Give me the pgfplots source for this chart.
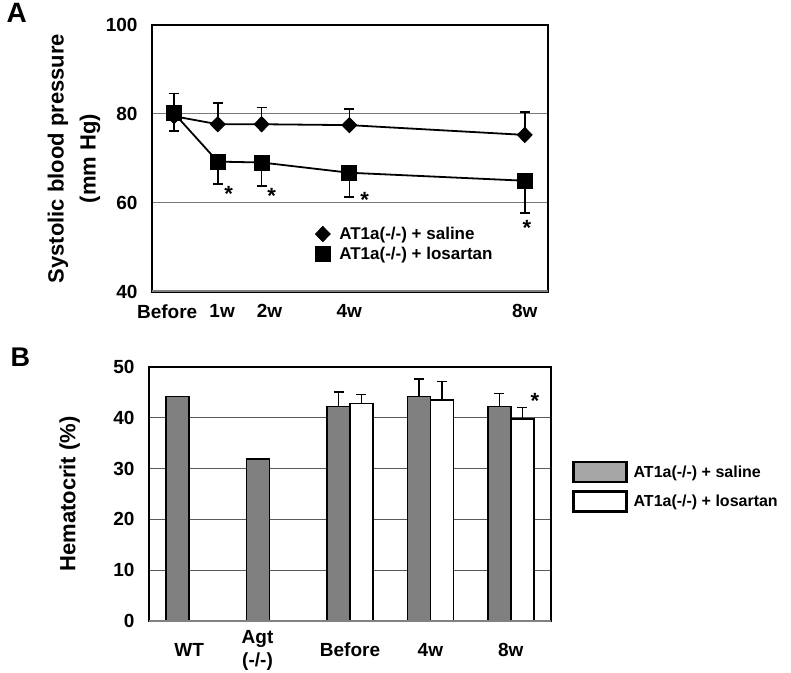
\documentclass[border=0pt]{standalone}
\usepackage{pgfplots}
\pgfplotsset{compat=1.18}
\usepackage{fontspec}
\setmainfont{Liberation Sans}
\definecolor{bargray}{RGB}{128,128,128}
\definecolor{leggray}{RGB}{166,166,166}
\definecolor{gridA}{RGB}{120,120,120}
\definecolor{gridB}{RGB}{90,90,90}
\begin{document}
\begin{tikzpicture}[x=1pt,y=1pt]
\path[use as bounding box] (0,0) rectangle (791,672);

% ---------------- Panel A ----------------
\begin{axis}[
  at={(152pt,380pt)}, anchor=south west,
  width=396pt, height=267pt, scale only axis,
  xmin=-0.5, xmax=8.53, ymin=40, ymax=100,
  xtick={-0.155,1.10,2.18,4,8}, xticklabels={Before,1w,2w,4w,8w},
  ytick={40,60,80,100},
  major tick length=0pt,
  ymajorgrids, grid style={color=gridA, line width=1pt},
  axis line style={line width=2.5pt, black},
  tick label style={font=\fontsize{19}{22}\selectfont\bfseries},
  /pgf/number format/assume math mode=true,
  yticklabel style={xshift=-11pt},
  xticklabel style={yshift=-9pt},
  ylabel={Systolic blood pressure\\(mm Hg)},
  ylabel style={align=center, font=\fontsize{22}{32}\selectfont\bfseries,
    at={(axis description cs:-0.197,0.5)}, anchor=center},
  legend style={at={(axis cs:3.22,50.8)}, anchor=west, draw=none, fill=none,
    font=\fontsize{17}{20}\selectfont\bfseries, inner sep=0pt,
    nodes={inner sep=1pt}, row sep=4pt, column sep=8pt},
  legend cell align=left,
  legend image code/.code={\draw[#1, only marks] plot coordinates {(0pt,0pt)};},
]
\draw[color=gray, line width=3pt] (rel axis cs:0,0) -- (rel axis cs:1,0);

\addplot[black, line width=1.8pt, mark=diamond*, mark size=7.5pt,
  mark options={solid, fill=black, xscale=1.3, line width=1pt},
  error bars/.cd, y dir=both, y explicit,
  error bar style={line width=1.6pt, black},
  error mark options={rotate=90, mark size=5pt, line width=1.6pt, black}]
coordinates {
 (0,79.5) += (0,0) -= (0,3.3)
 (1,77.7) += (0,4.8) -= (0,0)
 (2,77.7) += (0,3.8) -= (0,0)
 (4,77.5) += (0,3.6) -= (0,0)
 (8,75.3) += (0,5.1) -= (0,0)
};
\addlegendentry{AT1a(-/-) + saline}

\addplot[black, line width=1.8pt, mark=square*, mark size=7.5pt,
  mark options={solid, fill=black, line width=1pt},
  error bars/.cd, y dir=both, y explicit,
  error bar style={line width=1.6pt, black},
  error mark options={rotate=90, mark size=5pt, line width=1.6pt, black}]
coordinates {
 (0,80.2) += (0,4.4) -= (0,0)
 (1,69.3) += (0,0) -= (0,5.0)
 (2,69.1) += (0,0) -= (0,5.3)
 (4,66.8) += (0,0) -= (0,5.4)
 (8,65.0) += (0,0) -= (0,7.2)
};
\addlegendentry{AT1a(-/-) + losartan}

\node[font=\fontsize{22}{22}\selectfont\bfseries] at (axis cs:1.25,62.0) {*};
\node[font=\fontsize{22}{22}\selectfont\bfseries] at (axis cs:2.23,61.6) {*};
\node[font=\fontsize{22}{22}\selectfont\bfseries] at (axis cs:4.35,60.7) {*};
\node[font=\fontsize{22}{22}\selectfont\bfseries] at (axis cs:8.05,54.4) {*};
\end{axis}

% ---------------- Panel B ----------------
\begin{axis}[
  at={(149pt,51pt)}, anchor=south west,
  width=402pt, height=254pt, scale only axis,
  xmin=-0.5, xmax=4.5, ymin=0, ymax=50,
  xtick={0,0.85,2,3,4}, xticklabels={WT,{Agt\\(-/-)},Before,4w,8w},
  ytick={0,10,20,30,40,50},
  major tick length=0pt,
  ymajorgrids, grid style={color=gridB, line width=1pt},
  axis line style={line width=2.5pt, black},
  tick label style={font=\fontsize{19}{23}\selectfont\bfseries},
  /pgf/number format/assume math mode=true,
  yticklabel style={xshift=-11pt},
  xticklabel style={align=center, anchor=center, yshift=-29pt},
  ylabel={Hematocrit (\%)},
  ylabel style={font=\fontsize{22}{26}\selectfont\bfseries,
    at={(axis description cs:-0.197,0.5)}, anchor=center},
  legend style={at={(rel axis cs:1.052,0.528)}, anchor=west, draw=none, fill=none,
    font=\fontsize{16}{19}\selectfont\bfseries, inner sep=0pt,
    nodes={inner sep=1pt}, row sep=7pt, column sep=5pt},
  legend cell align=left,
]
\addlegendimage{legend image code/.code={\draw[line width=2.5pt, black, fill=leggray] (0pt,-10pt) rectangle (53pt,10pt);}}
\addlegendentry{AT1a(-/-) + saline}
\addlegendimage{legend image code/.code={\draw[line width=2.5pt, black, fill=white] (0pt,-10pt) rectangle (53pt,10pt);}}
\addlegendentry{AT1a(-/-) + losartan}

\addplot[ybar, bar width=0.286, bar shift=0pt, draw=black, line width=1.6pt, fill=bargray, forget plot,
  error bars/.cd, y dir=plus, y explicit,
  error bar style={line width=1.4pt, black},
  error mark options={rotate=90, mark size=5pt, line width=1.4pt, black}]
coordinates {
 (-0.143,44.2) += (0,0)
 (0.857,31.9) += (0,0)
 (1.857,42.2) += (0,2.9)
 (2.857,44.2) += (0,3.4)
 (3.857,42.2) += (0,2.6)
};
\addplot[ybar, bar width=0.286, bar shift=0pt, draw=black, line width=1.6pt, fill=white, forget plot,
  error bars/.cd, y dir=plus, y explicit,
  error bar style={line width=1.4pt, black},
  error mark options={rotate=90, mark size=5pt, line width=1.4pt, black}]
coordinates {
 (2.143,42.8) += (0,1.8)
 (3.143,43.5) += (0,3.7)
 (4.143,39.8) += (0,2.2)
};
\draw[color=gray, line width=3pt] (rel axis cs:0,0) -- (rel axis cs:1,0);
\node[font=\fontsize{22}{22}\selectfont\bfseries] at (axis cs:4.3,43.3) {*};
\end{axis}

\node[anchor=base west, font=\fontsize{28}{28}\selectfont\bfseries] at (3,649) {A};
\node[anchor=base west, font=\fontsize{27}{27}\selectfont\bfseries] at (7,305) {B};
\end{tikzpicture}
\end{document}
